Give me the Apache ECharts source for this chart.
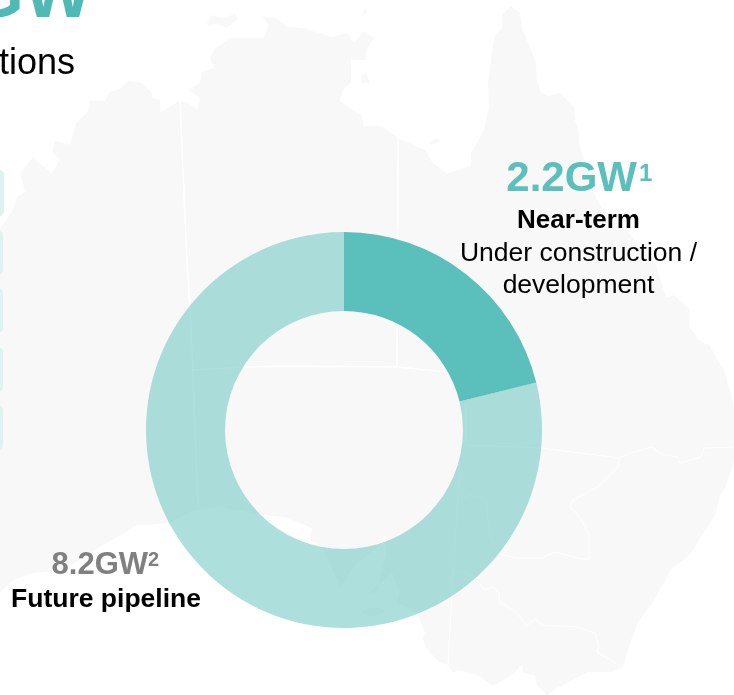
<!DOCTYPE html>
<html>
<head>
<meta charset="utf-8">
<style>
    html, body { margin: 0; padding: 0; background: #fff; overflow: hidden; }
    #chart { width: 734px; height: 695px; }
</style>
<script src="https://cdn.jsdelivr.net/npm/echarts@6/dist/echarts.min.js"></script>
</head>
<body>
<div id="chart"></div>
<script>
const categories = ['Near-term', 'Future pipeline'];
const capacityGW = [2.2, 8.2];
const footnotes = ['1', '2'];
const nearTermDetail = ['Under construction /', 'development'];
const clippedTitle = 'GW';
const clippedSubtitle = 'tions';

const teal = '#5bbfbc';
const mapGrey = '#f8f8f8';
const fontFamily = '"Liberation Sans", Arial, sans-serif';

// Background map of Australia, traced by hand (decoration only)
const mainland = [
    [0,227],[3,225],[13,210],[17,197],[25,192],[20,173],[33,157],[40,164],[52,173],[60,159],[52,153],[55,141],
    [70,145],[76,123],[88,112],[89,101],[105,101],[110,92],[120,89],[128,81],[142,83],[152,93],[152,98],[160,100],
    [161,112],[177,102],[187,102],[197,110],[200,98],[189,90],[200,82],[202,72],[214,68],[210,58],[215,48],[230,38],
    [263,38],[269,25],[262,16],[277,19],[288,27],[303,28],[332,37],[347,33],[354,43],[363,31],[374,38],[367,48],
    [365,60],[351,60],[351,82],[343,90],[340,101],[352,110],[361,114],[364,126],[382,126],[398,138],[425,150],
    [432,162],[447,174],[464,168],[471,165],[471,153],[484,130],[489,107],[488,83],[493,45],[495,35],[502,28],
    [502,15],[511,6],[520,13],[522,28],[536,63],[537,83],[541,92],[549,96],[560,93],[574,107],[575,120],[579,133],
    [580,148],[594,193],[604,213],[626,230],[656,265],[666,298],[674,295],[690,310],[689,327],[701,342],[709,345],
    [724,370],[732,397],[734,410],[734,462],[725,488],[720,495],[715,515],[690,555],[672,568],[653,602],[638,622],
    [630,643],[623,667],[612,672],[588,672],[557,688],[547,695],[537,685],[535,675],[523,673],[522,664],[512,675],
    [493,686],[478,675],[458,670],[453,673],[448,665],[440,663],[425,647],[423,637],[425,633],[417,613],[408,607],
    [397,603],[400,593],[392,572],[382,582],[368,593],[377,592],[380,580],[387,550],[385,535],[377,547],[353,567],
    [340,587],[323,547],[310,540],[312,528],[283,517],[265,515],[220,507],[193,510],[170,523],[147,525],[138,525],
    [117,537],[100,547],[63,570],[33,573],[13,580],[0,592]
];
const islands = [
    [[206,25],[211,15],[221,18],[236,14],[238,19],[227,28],[216,24]],
    [[362,15],[366,7],[366,13]],
    [[361,73],[363,76],[366,73],[370,83],[362,83]],
    [[429,143],[437,138],[441,141],[432,145]],
    [[361,612],[373,607],[386,611],[373,617]]
];
const thickBorders = [
    [[180,102],[186,240],[192,350],[198,507]],
    [[193,370],[243,367],[283,366],[398,367],[447,372]],
    [[398,138],[397,367]]
];
const thinBorders = [
    [[449,372],[466,405],[466,445],[541,448],[619,458],[631,453],[652,447],[661,454],[677,457],[680,463],[701,457],[704,448],[734,447]],
    [[460,462],[453,572],[448,665]],
    [[620,458],[618,467],[598,487],[573,500],[570,507],[580,517],[589,535],[589,559],[582,559],[555,552],[542,558],[517,558],[500,554],[490,538],[486,498],[470,495],[458,500]],
    [[455,573],[468,572],[478,582],[485,590],[493,587],[499,593],[499,602],[515,611],[527,626],[535,619],[543,625],[578,627],[595,633],[599,647],[597,652],[622,667]]
];
// Edges of the clipped-off panel boxes on the left
const panelBoxes = [[170,46,4],[230,45,3],[288,45,3],[347,45,3],[405,45,3]];

function textItem(x, y, text, size, color, weight, align) {
    return {
        type: 'text',
        x: x,
        y: y,
        z: 10,
        silent: true,
        style: {
            text: text,
            fontFamily: fontFamily,
            fontSize: size,
            fontWeight: weight,
            fill: color,
            align: align || 'center',
            verticalAlign: 'middle',
        },
    };
}

function borderItem(points, width) {
    return {
        type: 'polyline',
        z: 1,
        silent: true,
        shape: { points: points },
        style: { stroke: '#fff', lineWidth: width, fill: null },
    };
}

function backgroundItems() {
    const items = [];
    [mainland].concat(islands).forEach(function (points) {
        items.push({
            type: 'polygon',
            z: 0,
            silent: true,
            shape: { points: points },
            style: { fill: mapGrey },
        });
    });
    thickBorders.forEach(function (points) {
        items.push(borderItem(points, 1.5));
    });
    thinBorders.forEach(function (points) {
        items.push(borderItem(points, 1));
    });
    panelBoxes.forEach(function (box) {
        items.push({
            type: 'rect',
            z: 1,
            silent: true,
            shape: { x: -12, y: box[0], width: 12 + box[2], height: box[1], r: 5 },
            style: { fill: '#dff2f0' },
        });
    });
    return items;
}

const chart = echarts.init(document.getElementById('chart'), null, { renderer: 'canvas' });

const labels = [
    textItem(92, -3, clippedTitle, 72, '#4fb9b6', 'bold', 'right'),
    textItem(75, 64, clippedSubtitle, 36, '#000', 'normal', 'right'),

    textItem(637, 179.5, capacityGW[0].toFixed(1) + 'GW', 42, teal, 'bold', 'right'),
    textItem(639, 174, footnotes[0], 24, teal, 'bold', 'left'),
    textItem(578.5, 221, categories[0], 26, '#000', 'bold'),
    textItem(578.5, 254, nearTermDetail[0], 26.5, '#000', 'normal'),
    textItem(578.5, 286, nearTermDetail[1], 26.5, '#000', 'normal'),

    textItem(148, 565, capacityGW[1].toFixed(1) + 'GW', 31, '#808080', 'bold', 'right'),
    textItem(148, 560, footnotes[1], 20, '#808080', 'bold', 'left'),
    textItem(106, 600, categories[1], 26.5, '#000', 'bold'),
];

chart.setOption({
    animation: false,
    graphic: { elements: backgroundItems().concat(labels) },
    series: [
        {
            type: 'pie',
            center: [344, 430],
            radius: [119, 198],
            startAngle: 90,
            clockwise: true,
            silent: true,
            z: 5,
            label: { show: false },
            labelLine: { show: false },
            itemStyle: { borderWidth: 0 },
            data: [
                { name: categories[0], value: capacityGW[0], itemStyle: { color: teal } },
                { name: categories[1], value: capacityGW[1], itemStyle: { color: 'rgba(91,191,188,0.5)' } },
            ],
        },
    ],
});
</script>
</body>
</html>
